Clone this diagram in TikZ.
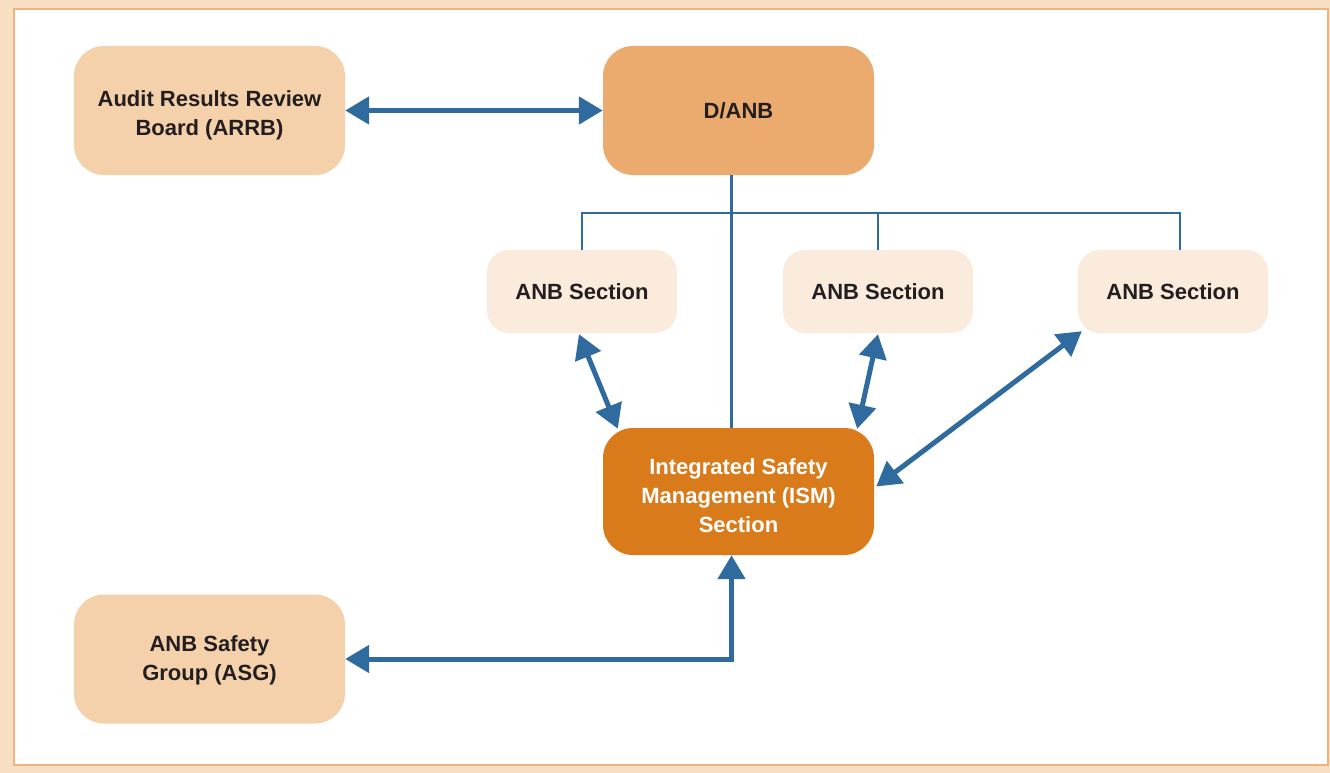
\documentclass[tikz,border=0pt]{standalone}
\usepackage{fontspec}
\setmainfont{Liberation Sans}
\usetikzlibrary{arrows.meta,calc}
\definecolor{outerbg}{HTML}{F8DEC3}
\definecolor{frameline}{HTML}{EDB47F}
\definecolor{peachfill}{HTML}{F5D1AB}
\definecolor{danbfill}{HTML}{EBAA6E}
\definecolor{secfill}{HTML}{FAEBDC}
\definecolor{ismfill}{HTML}{DA7B1B}
\definecolor{blueline}{HTML}{2F6B9E}
\definecolor{txt}{HTML}{231F20}
\begin{document}
\begin{tikzpicture}[x=1pt,y=-1pt,
  boxtext/.style={inner sep=0pt, align=center, font=\fontsize{22}{29}\selectfont\bfseries, text=txt},
  box/.style={boxtext, rounded corners=30pt, minimum width=271pt, minimum height=129pt},
  sec/.style={box, rounded corners=22pt, minimum width=190pt, minimum height=83pt, fill=secfill},
  tree/.style={draw=blueline, line width=2.5pt},
  dblarrow/.style={draw=blueline, line width=5pt,
    {Triangle[length=24pt,width=27pt]}-{Triangle[length=24pt,width=27pt]}}
]
\useasboundingbox (0,0) rectangle (1330,773);
\fill[outerbg] (0,0) rectangle (1330,773);
\filldraw[fill=white, draw=frameline, line width=2.5pt] (14,9) rectangle (1328,765);

\node[box, fill=peachfill] (arrb) at (209.5,110.5) {};
\node[boxtext] (arrbtext) at ($(arrb.center)+(0,5)$) {Audit Results Review\\Board (ARRB)};
\node[box, fill=danbfill] (danb) at (738.5,110.5) {D/ANB};
\node[sec] (anb1) at (582,291.5) {ANB Section};
\node[sec] (anb2) at (878,291.5) {ANB Section};
\node[sec] (anb3) at (1173,291.5) {ANB Section};
\node[box, fill=ismfill, minimum height=127pt] (ism) at (738.5,491.5) {};
\node[boxtext, text=white] (ismtext) at ($(ism.center)+(0,4)$)
  {Integrated Safety\\Management (ISM)\\Section};
\node[box, fill=peachfill] (asg) at (209.5,659) {};
\node[boxtext] (asgtext) at ($(asg.center)+(0,1)$) {ANB Safety\\Group (ASG)};

\coordinate (b3) at (1180,213);
\draw[tree] ($(danb.south)+(-7,0)$) -- ($(ism.north)+(-7,0)$);
\draw[tree] (anb1.north) |- (b3) -- (b3 |- anb3.north);
\draw[tree] (anb2.north) -- (anb2.north |- b3);

\draw[dblarrow] (arrb.east) -- (danb.west);
\draw[dblarrow] ($(anb1.south)+(-3,1)$) -- ($(ism.north west)+(15,1)$);
\draw[dblarrow] ($(anb2.south)+(0,1)$) -- ($(ism.north east)+(-17,1)$);
\draw[dblarrow] ($(anb3.south west)+(4,-2)$) -- ($(ism.east)+(2,-5)$);
\draw[dblarrow] ($(ism.south)+(-7,0)$) |- (asg.east);
\end{tikzpicture}
\end{document}
